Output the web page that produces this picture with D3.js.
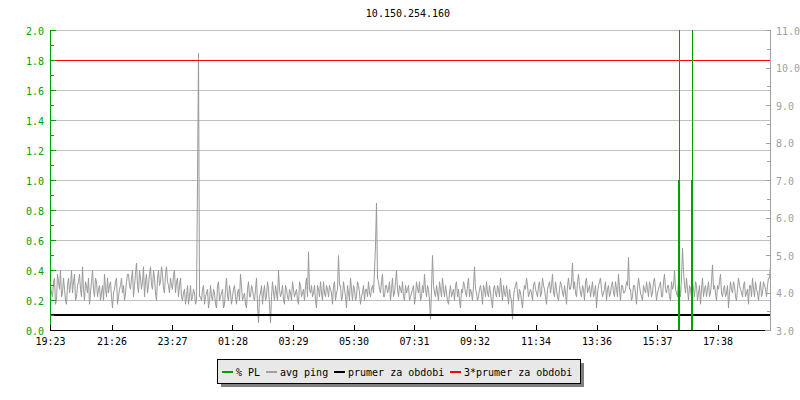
<!DOCTYPE html>
<html lang="en">
<head>
<meta charset="utf-8">
<title>10.150.254.160</title>
<script src="https://cdn.jsdelivr.net/npm/d3@7"></script>
<style>
  body { margin: 0; background: #fff; }
  text { font-family: "DejaVu Sans Mono", monospace; font-size: 10px; }
</style>
</head>
<body>
<script>
var title = "10.150.254.160";

// x tick labels (time of day, starting 19:23, 24h window)
var timeLabels = ["19:23", "21:26", "23:27", "01:28", "03:29", "05:30", "07:31", "09:32", "11:34", "13:36", "15:37", "17:38"];
var windowMinutes = 1440;
var pingStep = 2; // minutes between avg ping samples

// avg ping (ms, right axis)
var avgPing = [
  4.2,4.0,3.9,4.3,4.4,3.7,3.8,4.5,4.3,4.1,4.6,3.9,4.0,4.4,4.1,3.8,3.7,4.2,4.4,4.0,4.2,4.6,4.0,4.3,4.5,3.8,3.9,4.2,4.3,4.5,4.1,3.9,4.7,4.1,3.8,4.3,4.2,4.0,4.4,3.7,
  4.0,4.3,4.6,4.1,3.9,4.4,4.3,3.9,4.1,4.2,3.8,4.0,4.2,3.8,4.5,4.1,3.9,4.4,4.0,4.2,4.3,3.9,3.6,4.0,4.1,4.3,4.4,3.7,3.9,4.1,4.2,4.4,4.0,4.2,3.8,4.0,4.3,4.5,4.5,4.2,
  4.1,4.4,4.6,3.9,4.2,4.5,4.8,4.2,4.0,4.6,4.4,4.1,4.3,4.7,3.9,4.3,4.5,4.0,4.2,4.5,4.7,4.2,4.1,4.6,4.4,4.0,3.8,4.4,4.6,4.2,4.3,4.7,4.5,4.1,4.0,4.5,4.7,4.3,4.2,4.0,
  4.4,4.2,4.1,4.5,4.6,4.0,4.3,4.4,3.9,4.2,4.4,3.9,3.8,4.0,4.1,3.7,3.9,4.2,3.7,3.9,4.2,3.8,3.9,4.1,4.0,3.7,3.8,7.0,10.4,3.9,3.9,3.8,4.1,4.2,3.7,3.9,4.0,4.1,3.6,3.8,
  4.2,3.9,3.8,4.1,4.0,3.7,3.6,4.2,4.3,3.8,3.9,4.0,4.1,3.6,3.7,4.1,4.4,3.9,3.8,4.2,4.0,3.7,3.9,4.1,4.2,3.9,3.7,4.0,4.1,3.8,4.5,4.2,3.8,3.9,4.0,3.7,3.6,4.1,4.3,3.9,
  3.9,4.2,4.1,3.9,3.8,4.1,4.4,3.7,3.2,3.9,4.0,4.2,3.7,4.0,4.2,3.8,3.9,4.3,4.1,3.7,3.2,3.9,4.3,4.0,3.8,4.2,4.0,3.8,4.6,4.1,3.9,4.0,4.2,3.8,3.7,4.2,4.1,3.9,3.8,4.1,
  4.0,3.8,4.3,4.1,3.9,4.0,4.1,3.8,3.7,4.3,4.2,3.9,4.0,4.1,3.8,4.2,4.4,3.9,5.1,4.1,4.0,4.2,3.9,4.0,4.2,3.8,3.6,4.2,4.1,3.9,4.3,4.0,3.8,4.3,4.0,3.9,4.2,4.1,3.9,4.2,
  4.1,4.0,3.7,4.2,4.3,3.8,4.0,4.1,5.0,4.2,4.2,3.8,3.9,4.3,4.1,3.9,3.6,4.2,4.0,3.8,4.4,4.1,3.8,4.2,4.1,3.8,3.9,4.3,4.2,4.0,3.7,3.9,4.0,4.2,3.8,4.1,4.1,3.9,4.3,4.0,
  3.9,4.1,4.2,4.0,4.6,5.25,6.4,4.4,4.3,4.1,4.0,4.3,4.5,3.9,3.9,4.2,4.2,4.0,4.1,4.3,3.8,4.1,4.4,3.9,4.0,4.3,4.6,4.1,3.9,4.2,4.1,4.0,4.3,3.9,3.8,4.2,4.0,4.1,4.2,3.8,
  3.9,4.0,4.1,4.2,3.7,3.9,4.3,4.1,4.0,4.3,3.8,3.9,4.2,4.0,4.5,4.1,3.9,4.2,4.1,3.8,3.3,4.1,5.0,4.2,4.0,3.9,4.2,4.0,3.8,4.3,4.1,3.9,4.4,4.1,3.9,4.2,4.0,3.8,3.7,4.0,
  4.2,3.9,4.0,4.1,3.8,4.2,4.3,3.9,4.1,3.8,3.6,4.1,4.0,4.3,4.2,4.0,3.9,4.2,4.4,3.9,4.1,4.0,3.8,4.2,4.7,4.1,4.0,3.8,3.9,4.1,4.2,4.0,3.7,4.2,4.1,3.9,4.3,4.0,3.9,4.2,
  4.0,3.8,3.6,4.1,4.2,4.0,3.9,4.2,4.1,3.9,4.4,4.1,3.8,4.2,4.0,3.9,4.2,4.0,3.7,4.1,3.9,3.8,3.3,3.9,4.1,4.2,4.3,4.0,3.8,4.1,4.0,3.8,3.6,4.0,4.2,4.1,4.4,4.2,3.9,4.0,
  4.1,4.0,3.8,4.2,4.3,4.1,4.0,3.9,4.2,4.3,3.9,4.0,4.4,4.2,4.1,3.9,3.7,4.1,4.2,4.3,4.0,4.2,4.5,4.0,3.9,4.3,4.1,3.9,3.8,4.1,4.3,4.2,4.0,3.9,4.2,4.0,3.7,4.2,4.4,4.1,
  4.1,4.3,4.8,4.1,4.3,4.0,3.9,4.3,4.5,4.2,4.0,3.9,4.2,4.1,3.8,4.3,4.4,4.0,4.1,4.2,3.9,4.1,4.3,3.9,4.0,4.2,3.6,4.0,4.2,4.3,4.4,4.1,3.9,4.0,4.1,4.3,3.8,4.1,4.2,3.9,
  4.0,4.2,4.3,4.0,3.9,4.3,4.1,3.9,4.5,4.1,3.8,4.2,4.2,4.0,4.0,4.1,4.3,4.2,4.95,4.1,4.1,3.8,3.9,4.2,4.2,4.0,3.7,4.1,4.4,4.2,4.0,3.9,3.8,4.2,4.1,4.0,4.3,4.1,3.9,4.3,
  4.2,3.9,4.0,4.3,4.4,4.1,3.8,4.0,4.1,4.2,4.3,3.9,3.9,4.3,4.5,4.1,4.0,4.2,4.2,3.9,3.8,4.3,4.1,4.2,4.6,4.1,4.0,3.9,4.3,4.2,3.9,4.4,5.2,4.6,4.2,4.0,4.4,4.1,3.8,4.2,
  4.1,3.9,4.3,4.1,3.9,4.3,4.2,3.8,4.0,4.2,3.7,4.1,4.4,3.9,4.1,4.2,3.9,4.1,4.3,3.9,4.0,4.3,4.75,4.1,4.2,4.0,3.8,4.2,4.1,4.3,4.5,4.0,3.9,4.1,4.2,3.9,4.0,4.2,3.6,4.0,
  4.3,4.1,4.0,4.3,4.2,3.9,3.8,4.1,4.4,4.2,4.1,4.0,3.9,4.2,4.3,3.9,4.0,4.1,3.7,4.2,4.2,3.9,4.4,4.1,3.9,4.3,4.1,4.0,3.8,4.1,4.3,3.9,4.0,4.3,4.2,4.1,3.9,4.2,4.4,4.4,4.7
];

// % packet loss (left axis), sparse points: minute, value
var plMinutes = [0, 1255, 1255, 1257, 1257, 1257, 1281, 1281, 1283, 1283, 1283, 1440];
var plValues  = [0, 0,    1,    1,    100,  0,    0,    1,    1,    100,  0,    0];

var avgPeriod = 3.4;          // prumer za obdobi (ms)
var avgPeriod3 = 3 * avgPeriod;

var legendItems = [
  {label: "% PL", color: "#00a000"},
  {label: "avg ping", color: "#a0a0a0"},
  {label: "prumer za obdobi", color: "#000000"},
  {label: "3*prumer za obdobi", color: "#ff0000"}
];

var w = 800, h = 400;
var svg = d3.select("body").append("svg").attr("width", w).attr("height", h);

var x = d3.scaleLinear().domain([0, windowMinutes]).range([50.5, 770.5]);
var yL = d3.scaleLinear().domain([0, 2]).range([330.5, 30.5]);
var yR = d3.scaleLinear().domain([3, 11]).range([330.5, 30.5]);

// minutes since start for each tick label
var tickMinutes = timeLabels.map(function(s) {
  var p = s.split(":"), m = (+p[0]) * 60 + (+p[1]) - (19 * 60 + 23);
  return m < 0 ? m + 1440 : m;
});

// title
svg.append("text").attr("x", 408).attr("y", 17).attr("text-anchor", "middle")
  .attr("fill", "#000").text(title);

// horizontal grid (left axis steps)
svg.append("g").attr("shape-rendering", "crispEdges").selectAll("line")
  .data(d3.range(1, 11).map(function(i) { return i * 0.2; }))
  .enter().append("line")
  .attr("x1", 51).attr("x2", 770)
  .attr("y1", function(d) { return yL(d); }).attr("y2", function(d) { return yL(d); })
  .attr("stroke", "#c0c0c0");

svg.append("clipPath").attr("id", "plot").append("rect")
  .attr("x", 50).attr("y", 30).attr("width", 721).attr("height", 301);
var plot = svg.append("g").attr("clip-path", "url(#plot)");

// avg ping
plot.append("path")
  .datum(avgPing)
  .attr("fill", "none").attr("stroke", "#999").attr("stroke-width", 1)
  .attr("d", d3.line()
    .x(function(d, i) { return x(i * pingStep); })
    .y(function(d) { return yR(d); }));

// mean and 3*mean
plot.append("line").attr("x1", 51).attr("x2", 770)
  .attr("y1", Math.round(yR(avgPeriod))).attr("y2", Math.round(yR(avgPeriod)))
  .attr("stroke", "#000").attr("stroke-width", 2);
plot.append("line").attr("x1", 51).attr("x2", 770)
  .attr("y1", yR(avgPeriod3)).attr("y2", yR(avgPeriod3))
  .attr("stroke", "#ff0000").attr("stroke-width", 1);

// % PL
plot.append("path")
  .datum(d3.zip(plMinutes, plValues))
  .attr("fill", "none").attr("stroke", "#00a000").attr("stroke-width", 1)
  .attr("shape-rendering", "crispEdges")
  .attr("d", d3.line()
    .x(function(d) { return x(d[0]); })
    .y(function(d) { return yL(d[1]); }));

// left axis (green)
var gl = svg.append("g").attr("shape-rendering", "crispEdges");
gl.append("line").attr("x1", 50.5).attr("x2", 50.5).attr("y1", 30).attr("y2", 331)
  .attr("stroke", "#00a000");
gl.selectAll("line.tk").data(d3.range(0, 21)).enter().append("line")
  .attr("x1", 50).attr("x2", function(d) { return d % 2 ? 54 : 56; })
  .attr("y1", function(d) { return yL(d / 10); }).attr("y2", function(d) { return yL(d / 10); })
  .attr("stroke", "#00a000");
gl.selectAll("text").data(d3.range(0, 11)).enter().append("text")
  .attr("x", 44).attr("y", function(d) { return yL(d * 0.2) + 4; })
  .attr("text-anchor", "end").attr("fill", "#00a000")
  .text(function(d) { return (d * 0.2).toFixed(1); });

// right axis (grey)
var gr = svg.append("g").attr("shape-rendering", "crispEdges");
gr.append("line").attr("x1", 770.5).attr("x2", 770.5).attr("y1", 30).attr("y2", 331)
  .attr("stroke", "#a0a0a0");
gr.append("line").attr("x1", 765).attr("x2", 771).attr("y1", 330.5).attr("y2", 330.5)
  .attr("stroke", "#a0a0a0");
gr.selectAll("line.tk").data(d3.range(6, 23)).enter().append("line")
  .attr("x1", function(d) { return d % 2 ? 767 : 766; }).attr("x2", 771)
  .attr("y1", function(d) { return Math.round(yR(d / 2) - 0.5) + 0.5; })
  .attr("y2", function(d) { return Math.round(yR(d / 2) - 0.5) + 0.5; })
  .attr("stroke", "#a0a0a0");
gr.selectAll("text").data(d3.range(3, 12)).enter().append("text")
  .attr("x", 776).attr("y", function(d) { return yR(d) + 4; })
  .attr("fill", "#a0a0a0")
  .text(function(d) { return d.toFixed(1); });

// x axis (black)
var gx = svg.append("g").attr("shape-rendering", "crispEdges");
gx.append("line").attr("x1", 50).attr("x2", 765).attr("y1", 330.5).attr("y2", 330.5)
  .attr("stroke", "#000");
gx.selectAll("line.tk").data(tickMinutes).enter().append("line")
  .attr("x1", function(d) { return Math.round(x(d) - 0.5) + 0.5; })
  .attr("x2", function(d) { return Math.round(x(d) - 0.5) + 0.5; })
  .attr("y1", 325).attr("y2", 331).attr("stroke", "#000");
gx.selectAll("text").data(timeLabels).enter().append("text")
  .attr("x", function(d, i) { return x(tickMinutes[i]); }).attr("y", 345)
  .attr("text-anchor", "middle").attr("fill", "#000")
  .text(function(d) { return d; });

// legend
var lg = svg.append("g").attr("shape-rendering", "crispEdges");
lg.append("rect").attr("x", 220.5).attr("y", 362.5).attr("width", 363).attr("height", 24)
  .attr("fill", "#808080");
lg.append("rect").attr("x", 217.5).attr("y", 359.5).attr("width", 363).attr("height", 24)
  .attr("fill", "#e8e8e8").attr("stroke", "#000");
var lx = [222, 266, 334, 450];
legendItems.forEach(function(it, i) {
  lg.append("line").attr("x1", lx[i]).attr("x2", lx[i] + 11).attr("y1", 372).attr("y2", 372)
    .attr("stroke", it.color).attr("stroke-width", 2);
  lg.append("text").attr("x", lx[i] + 14).attr("y", 375.5).attr("fill", "#000").text(it.label);
});
</script>
</body>
</html>
